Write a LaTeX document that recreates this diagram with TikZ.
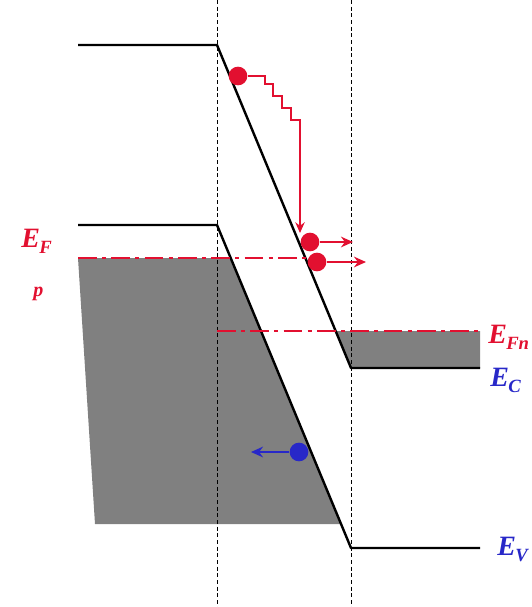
\documentclass[tikz,border=0pt]{standalone}
\usepackage{fontspec}
\setmainfont{Liberation Serif}
\usepackage{tikz}
\usetikzlibrary{arrows.meta,positioning}
\definecolor{carrierred}{RGB}{226,16,48}
\definecolor{holeblue}{RGB}{40,40,200}
\definecolor{bandgray}{RGB}{128,128,128}
\newcommand{\lvl}[2]{\bfseries\itshape #1\kern-0.5pt\raisebox{-5pt}{\fontsize{14}{14}\selectfont #2}}

\begin{document}
\begin{tikzpicture}[x=0.75pt, y=-0.75pt,
    band/.style={line width=1.8pt, line join=round},
    edge/.style={densely dashed, line width=0.6pt},
    fermi/.style={carrierred, line width=1.6pt, dash pattern=on 14pt off 4pt on 3pt off 4pt},
    elec/.style={circle, fill=carrierred, inner sep=0pt, minimum size=14pt},
    hole/.style={circle, fill=holeblue, inner sep=0pt, minimum size=14pt},
    drift/.style={-{Stealth[length=9pt,width=8pt]}, line width=2pt},
    label/.style={anchor=base west, font=\fontsize{21}{22}\selectfont, inner sep=0pt}
]
\clip (0,0) rectangle (532,607);

% filled states
\fill[bandgray] (78,258) -- (231,258) -- (341,524) -- (95,524) -- cycle;
\fill[bandgray] (336,331) -- (480,331) -- (480,368) -- (351,368) -- cycle;

% junction edges
\draw[edge] (217,0) -- (217,607);
\draw[edge] (351,0) -- (351,607);

% bands
\draw[band] (78,45) -- (217,45) -- (351,368) -- (480,368);
\draw[band] (78,225) -- (217,225) -- (351,548) -- (480,548);

% Fermi levels
\draw[fermi] (78,258) -- (318,258);
\draw[fermi] (217,331) -- (482,331);

% carriers
\node[elec] (hot) at (238,76) {};
\node[elec] (e1) at (310,242) {};
\node[elec] (e2) at (317,262) {};
\node[hole] (h1) at (299,452) {};
\coordinate (drop) at (300,233);
\coordinate (e1end) at (353,242);
\coordinate (e2end) at (366,262);
\coordinate (h1end) at (251,452);

\draw[carrierred, line width=1.2pt, -{Stealth[length=8pt,width=7pt]}]
    (hot.east) -- (265,76) -- ++(0,8) -- ++(8,0) -- ++(0,12) -- ++(9,0)
    -- ++(0,12) -- ++(9,0) -- ++(0,12) -- ++(9,0) -- (drop);
\draw[drift, carrierred] (e1) -- (e1end);
\draw[drift, carrierred] (e2) -- (e2end);
\draw[drift, holeblue] (h1) -- (h1end);

% labels
\node[label, text=carrierred] (efp) at (21,247) {\lvl{E}{F}};
\node[label, text=carrierred, font=\fontsize{15}{15}\selectfont\bfseries\itshape] (pside) at (33,296) {p};
\node[label, text=carrierred] (efn) at (488,343) {\lvl{E}{Fn}};
\node[label, text=holeblue] (ec) at (490,386) {\lvl{E}{C}};
\node[label, text=holeblue] (ev) at (497,555) {\lvl{E}{V}};
\end{tikzpicture}
\end{document}
